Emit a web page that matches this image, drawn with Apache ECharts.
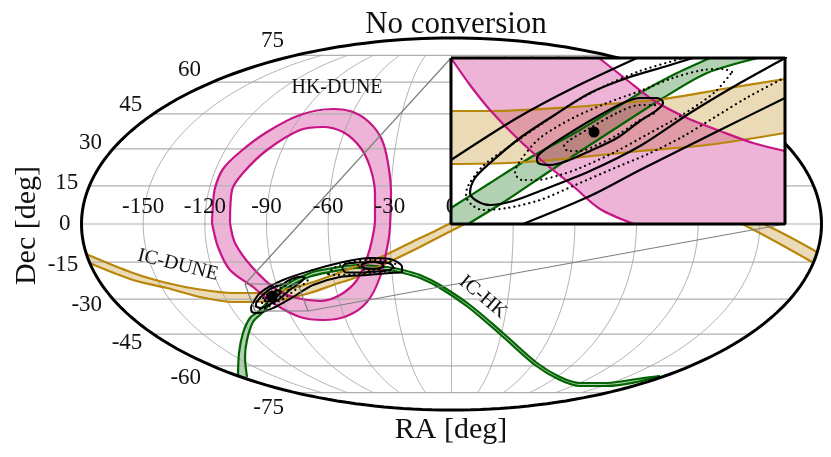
<!DOCTYPE html>
<html>
<head>
<meta charset="utf-8">
<title>No conversion</title>
<script src="https://cdn.jsdelivr.net/npm/echarts@6/dist/echarts.min.js"></script>
<style>
  html, body { margin: 0; padding: 0; background: #fff; }
  #chart { width: 831px; height: 457px; }
</style>
</head>
<body>
<div id="chart"></div>
<script>
// tick labels of the sky map
const raTicks = [-150, -120, -90, -60, -30, 0, 30, 60, 90, 120, 150];
const decTicks = [-75, -60, -45, -30, -15, 0, 15, 30, 45, 60, 75];

// curves, in Mollweide plane units (origin at RA 0, Dec 0)
const icDuneUpper = [[-365,-30],[-318,-49],[-284,-59],[-251,-65.5],[-218,-69],[-198,-69],[-171,-67],[-141,-59],[-118,-51],[-94,-42],[-68,-32],[-31,-14],[-16,-7],[0,1],[49,24],[149,39],[249,26],[321,-4],[366,-28]];
const icDuneLower = [[-361.5,-39],[-318,-56],[-284,-64],[-251,-73],[-218,-78],[-198,-78],[-171,-76],[-141,-69],[-118,-61],[-94,-53],[-64,-39],[-31,-23],[0,-7],[49,16],[149,31],[249,18],[299,-4],[361,-38]];
const hkDuneOuter = [[-239,1],[-238,20],[-236,36],[-228,55],[-211,72],[-184,92],[-151,109],[-118,115],[-98,112],[-81,101],[-69,84],[-63,61],[-60,31],[-61,-3],[-63,-19],[-71,-53],[-84,-78],[-104,-92],[-128,-96],[-151,-93],[-178,-79],[-198,-63],[-221,-46],[-233,-23],[-239,1]];
const hkDuneInner = [[-221,1],[-219,34],[-208,51],[-184,74],[-151,94],[-128,97],[-108,92],[-91,77],[-81,57],[-76,31],[-76,4],[-79,-16],[-84,-34],[-94,-56],[-111,-71],[-131,-77],[-154,-74],[-174,-66],[-199,-43],[-216,-19],[-221,1]];
const icHkUpper = [[-213,-153],[-212,-129],[-208,-109],[-201,-94],[-193,-88],[-168,-63],[-141,-49],[-118,-44],[-94,-41],[-64,-43],[-48,-46],[-31,-51],[-11,-61],[19,-81],[52,-109],[86,-139],[109,-153],[129,-159],[156,-159],[186,-155],[209,-152]];
const icHkLower = [[-204,-153],[-206,-133],[-204,-116],[-198,-98],[-189,-89],[-168,-67],[-141,-52.5],[-118,-47.5],[-94,-44],[-64,-46],[-48,-49],[-31,-54],[-11,-64],[17,-83],[50,-111],[84,-141],[108,-155.5],[129,-162],[156,-162],[186,-158],[209,-152]];

// long contour joining both solutions, and the contours of the second solution
const wideContour = [[-200,-83],[-191,-69],[-168,-56],[-138,-46],[-108,-38],[-81,-34],[-61,-35],[-49,-43],[-49,-48],[-61,-49],[-84,-51],[-111,-53],[-138,-61],[-158,-73],[-178,-84],[-194,-89],[-199,-88],[-200,-83]];
const secondMid = [[-109,-44],[-106,-40],[-93,-38.5],[-76,-38],[-63,-39],[-58,-42.5],[-61,-46],[-76,-47.5],[-93,-48.5],[-105,-48.5],[-109,-44]];
const secondSmall = [[-90,-41.5],[-86,-39],[-79,-38],[-71,-39],[-68,-41.5],[-71,-44],[-79,-45],[-86,-44.5],[-90,-41.5]];
const secondDotOuter = [[-123,-50],[-117,-44],[-103,-39],[-81,-36],[-63,-37],[-55,-41],[-59,-46],[-79,-49],[-101,-50.5],[-116,-51],[-123,-50]];
const secondDotInner = [[-93,-41],[-87,-38.5],[-79,-37.5],[-71,-38.5],[-66,-41],[-70,-44.5],[-79,-46],[-88,-45.5],[-93,-41]];

// inset view, in inset units (0-334 across, 0-166 down)
const insetPinkUpper = [[148,0],[176,22],[202,42],[236,60],[269,73],[302,85],[334,93]];
const insetPinkLower = [[0,0],[19,27],[39,52],[66,80],[96,107],[122,128],[149,151],[183,166]];
const insetGoldUpper = [[0,53],[39,53],[122,49],[169,45],[212,41],[272,31],[334,21]];
const insetGoldLower = [[0,106],[56,105],[89,103],[122,100],[189,93],[256,87],[334,75]];
const insetGreenUpper = [[0,150],[39,125],[82,98],[129,72],[189,35],[222,17],[259,0]];
const insetGreenLower = [[17,166],[56,142],[96,115],[142,85],[196,50],[212,40],[256,15],[307,0]];
const insetWideUpper = [[0,102],[66,60],[122,30],[186,0]];
const insetWideLower = [[72,166],[139,138],[189,112],[269,72],[334,40]];
const contourMid = [[242,0],[216,8],[176,20],[139,35],[102,58],[69,80],[39,105],[24,120],[19,135],[26,143],[39,147],[62,143],[89,133],[139,113],[189,88],[239,55],[289,25],[334,0],[365,-18],[385,-35],[375,-45],[340,-42],[290,-25],[242,0]];
const contourSmall = [[211,42],[206,40],[189,40],[172,45],[149,57],[122,73],[96,90],[86,100],[87,105],[99,107],[116,103],[139,93],[166,80],[189,63],[206,52],[212,45],[211,42]];
const dottedOuter = [[229,1],[189,13],[156,27],[122,45],[89,67],[56,90],[32,108],[17,128],[15,138],[21,147],[32,152],[56,150],[89,142],[122,128],[166,109],[197,96],[231,79],[264,59],[297,39],[331,21],[370,0],[405,-25],[400,-40],[360,-42],[290,-20],[229,1]];
const dottedMid = [[281,14],[272,11],[252,12],[222,20],[189,33],[156,45],[122,60],[89,80],[69,103],[64,115],[71,122],[86,122],[109,117],[129,110],[164,94],[197,76],[231,57],[264,34],[281,14]];
const dottedSmall = [[204,47],[189,47],[166,55],[139,70],[119,82],[113,88],[117,93],[129,93],[146,87],[166,77],[189,62],[206,52],[204,47]];
const bestFit = [[143,74]];

// zoom box on the map (its sides lean with the projection) and the inset frame
const zoomBox = [[-206,-60],[-153,-60],[-143,-87],[-196,-87],[-206,-60]];
const connectorA = [[-206,-60],[0,166]];
const connectorB = [[-143,-87],[334,0]];
const insetFrame = [[0,0],[334,0],[334,166],[0,166],[0,0]];

const bandNames = ['HK-DUNE', 'IC-DUNE', 'IC-HK'];
const bandNameAt = [[-114,136],[-273,-41],[32,-73]];
const bandNameTilt = [0, -14, -40];
const axisNames = ['RA [deg]', 'Dec [deg]'];
const axisNameAt = [[0,-206],[-424,-1.5]];
const axisNameTilt = [0, 90];

const SEMI_X = 370, SEMI_Y = 186, CENTER_X = 0.5;
const PINK = '#c71585', GOLD = '#b8860b', GREEN = '#006400';
const PINK_FILL = 'rgba(199,21,133,0.32)', GOLD_FILL = 'rgba(184,134,11,0.3)', GREEN_FILL = 'rgba(0,100,0,0.3)';
const SERIF = '"Liberation Serif", serif';

// Mollweide projection, only used for the graticule and tick labels
function project(ra, dec) {
  const phi = dec * Math.PI / 180;
  let t = phi;
  for (let i = 0; i < 30; i++) {
    t -= (2 * t + Math.sin(2 * t) - Math.PI * Math.sin(phi)) / (2 + 2 * Math.cos(2 * t));
  }
  return [CENTER_X + SEMI_X * (ra / 180) * Math.cos(t), SEMI_Y * Math.sin(t)];
}

// inset units -> map plane, following the leaning zoom box
function toMap(p) {
  const u = p[0] / 334, v = p[1] / 166;
  const x = zoomBox[0][0] + (zoomBox[3][0] - zoomBox[0][0]) * v + (zoomBox[1][0] - zoomBox[0][0]) * u;
  const y = zoomBox[0][1] + (zoomBox[3][1] - zoomBox[0][1]) * v;
  return [x, y];
}

function line(data, color, width, axis, z, extra) {
  return Object.assign({
    type: 'line', data: data, xAxisIndex: axis, yAxisIndex: axis, z: z,
    showSymbol: false, symbol: 'none', silent: true,
    lineStyle: { color: color, width: width }
  }, extra || {});
}
function curve(data, color, width, axis, z) {
  return line(data, color, width, axis, z, { smooth: 0.3 });
}
function dotted(data, axis, z) {
  return line(data, '#000', 2.2, axis, z, {
    smooth: 0.3,
    lineStyle: { color: '#000', width: 2.2, type: [0.1, 5], cap: 'round' }
  });
}
function fill(points, color, axis, z) {
  return {
    type: 'custom', coordinateSystem: 'cartesian2d', xAxisIndex: axis, yAxisIndex: axis, z: z,
    silent: true, data: [[0, 0]],
    renderItem: function (params, api) {
      return { type: 'polygon', shape: { points: points.map(p => api.coord(p)) }, style: { fill: color } };
    }
  };
}
function texts(labels, anchors, tilts, size, align, z) {
  return {
    type: 'custom', coordinateSystem: 'cartesian2d', xAxisIndex: 0, yAxisIndex: 0, z: z,
    silent: true, clip: false, data: labels.map((l, i) => [i, 0]),
    renderItem: function (params, api) {
      const i = params.dataIndex;
      const pos = api.coord(anchors[i]);
      return {
        type: 'text', x: pos[0], y: pos[1], rotation: (tilts ? tilts[i] : 0) * Math.PI / 180,
        style: {
          text: String(labels[i]), fill: '#111', font: size + 'px ' + SERIF,
          align: align, verticalAlign: 'middle', textAlign: align, textVerticalAlign: 'middle'
        }
      };
    }
  };
}

const series = [];

// graticule
decTicks.forEach(d => series.push(line([project(-180, d), project(180, d)], '#b0b0b0', 1.2, 0, 1)));
raTicks.forEach(r => {
  const pts = [];
  for (let d = -75; d <= 75; d += 5) pts.push(project(r, d));
  series.push(line(pts, '#a0a0a0', 0.8, 0, 1, { smooth: 0.3 }));
});

// bands on the map
series.push(fill(icHkUpper.concat(icHkLower.slice().reverse()), GREEN_FILL, 0, 1));
series.push(curve(icHkUpper, GREEN, 2.2, 0, 1), curve(icHkLower, GREEN, 2.2, 0, 1));
series.push(fill(icDuneUpper.concat(icDuneLower.slice().reverse()), GOLD_FILL, 0, 1));
series.push(curve(icDuneUpper, GOLD, 2.2, 0, 1), curve(icDuneLower, GOLD, 2.2, 0, 1));
series.push(fill(hkDuneOuter.concat(hkDuneInner.slice().reverse()), PINK_FILL, 0, 1));
series.push(curve(hkDuneOuter, PINK, 2.2, 0, 1), curve(hkDuneInner, PINK, 2.2, 0, 1));

// contours on the map
[wideContour, secondMid, secondSmall, contourMid.map(toMap), contourSmall.map(toMap)].forEach(c =>
  series.push(curve(c, '#000', 2, 0, 1)));
[secondDotOuter, secondDotInner, dottedOuter.map(toMap), dottedMid.map(toMap), dottedSmall.map(toMap)].forEach(c =>
  series.push(dotted(c, 0, 1)));
series.push({
  type: 'scatter', data: bestFit.map(toMap), xAxisIndex: 0, yAxisIndex: 0, z: 1, silent: true,
  symbolSize: 11, itemStyle: { color: '#000', opacity: 1 }
});

// zoom box and connectors
series.push(line(zoomBox, '#7f7f7f', 1.2, 0, 1), line(connectorA, '#7f7f7f', 1.2, 0, 1), line(connectorB, '#7f7f7f', 1.2, 0, 1));

// outline of the sky
const outline = [];
for (let i = 0; i <= 240; i++) {
  const t = i / 240 * 2 * Math.PI;
  outline.push([CENTER_X + SEMI_X * Math.cos(t), SEMI_Y * Math.sin(t)]);
}
series.push(line(outline, '#000', 3, 0, 2, { clip: false }));

// text on the map
series.push(texts(raTicks, raTicks.map(r => { const p = project(r, 0); return [p[0], p[1] + 17]; }), null, 23, 'center', 2));
series.push(texts(decTicks, decTicks.map(d => { const p = project(-180, d); return [p[0] - 11, p[1] + d * 0.2]; }), null, 23, 'right', 2));
series.push(texts(bandNames, bandNameAt, bandNameTilt, 20, 'center', 2));
series.push(texts(axisNames, axisNameAt, axisNameTilt, 30, 'center', 2));

// inset, drawn over the map
series.push(fill(insetFrame, '#fff', 1, 5));
series.push(fill(insetGreenUpper.concat(insetGreenLower.slice().reverse(), [[0,166]]), GREEN_FILL, 1, 5));
series.push(curve(insetGreenUpper, GREEN, 2.2, 1, 5), curve(insetGreenLower, GREEN, 2.2, 1, 5));
series.push(fill(insetGoldUpper.concat(insetGoldLower.slice().reverse()), GOLD_FILL, 1, 5));
series.push(curve(insetGoldUpper, GOLD, 2.2, 1, 5), curve(insetGoldLower, GOLD, 2.2, 1, 5));
series.push(fill(insetPinkUpper.concat([[334,166]], insetPinkLower.slice().reverse()), PINK_FILL, 1, 5));
series.push(curve(insetPinkUpper, PINK, 2.2, 1, 5), curve(insetPinkLower, PINK, 2.2, 1, 5));
[insetWideUpper, insetWideLower, contourMid, contourSmall].forEach(c =>
  series.push(curve(c, '#000', 2.2, 1, 5)));
[dottedOuter, dottedMid, dottedSmall].forEach(c => series.push(dotted(c, 1, 5)));
series.push({
  type: 'scatter', data: bestFit, xAxisIndex: 1, yAxisIndex: 1, z: 5, silent: true,
  symbolSize: 11, itemStyle: { color: '#000', opacity: 1 }
});
series.push(line(insetFrame, '#000', 3, 1, 6, { clip: false }));

const chart = echarts.init(document.getElementById('chart'), null, { renderer: 'canvas' });
chart.setOption({
  animation: false,
  backgroundColor: '#fff',
  title: {
    text: 'No conversion', left: 451, top: 4, textAlign: 'center',
    textStyle: { fontFamily: SERIF, fontSize: 31, fontWeight: 'normal', color: '#111' }
  },
  grid: [
    { left: 0, top: 0, right: 0, bottom: 0 },
    { left: 451, top: 58, width: 334, height: 166 }
  ],
  xAxis: [
    { type: 'value', gridIndex: 0, min: -451, max: 380, show: false },
    { type: 'value', gridIndex: 1, min: 0, max: 334, show: false }
  ],
  yAxis: [
    { type: 'value', gridIndex: 0, min: -233, max: 224, show: false },
    { type: 'value', gridIndex: 1, min: 0, max: 166, inverse: true, show: false }
  ],
  series: series
});
</script>
</body>
</html>
